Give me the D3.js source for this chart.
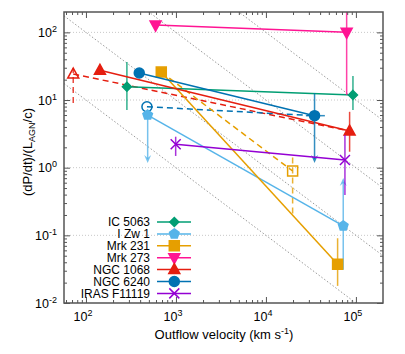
<!DOCTYPE html>
<html>
<head>
<meta charset="utf-8">
<script src="https://cdn.jsdelivr.net/npm/d3@7"></script>
<style>
  body { margin: 0; background: #fff; }
  text { font-family: "Liberation Sans", Arial, sans-serif; fill: #000; }
</style>
</head>
<body>
<div id="chart"></div>
<script>
// ---- data ----
const names = ['IC 5063', 'I Zw 1', 'Mrk 231', 'Mrk 273', 'NGC 1068', 'NGC 6240', 'IRAS F11119'];
const colors = ['#009e73', '#56b4e9', '#e69f00', '#ff1493', '#e51e10', '#0072b2', '#9400d3'];
const shapes = ['diamond', 'pentagon', 'square', 'triDown', 'triUp', 'circle', 'cross'];

// [velocity km/s, (dP/dt)/(L/c)]
const ic5063 = [[285, 15.7], [92700, 11.9]];
const izw1 = [[485, 6.0], [72300, 0.138]];
const mrk231 = [[687, 25.9], [62600, 0.0374]];
const mrk273 = [[594, 128], [78900, 100]];
const ngc1068 = [[143, 27.5], [85100, 3.48]];
const ngc6240 = [[391, 25.1], [34700, 5.87]];
const iras = [[993, 2.22], [75500, 1.30]];

// dashed alternative estimates, open marker at the given index
const mrk231Alt = [[687, 25.9], [19800, 0.894]];
const ngc1068Alt = [[72.2, 24.2], [85100, 3.48]];
const ngc6240Alt = [[476, 7.96], [34700, 5.87]];

// vertical error bars [velocity, low, high]
const ic5063Err = [[285, 7.1, 36.4], [92700, 7.1, 22.6]];
const mrk231Err = [[62600, 0.0179, 0.0906]];
const mrk231AltErr = [[19800, 0.21, 1.44]];
const mrk273Err = [[78900, 11.9, 1000]];
const ngc1068Err = [[85100, 1.72, 6.7]];
const ngc1068AltErr = [[72.2, 9.0, 29.7]];
const irasErr = [[993, 1.49, 2.87], [75500, 0.395, 3.04]];
// horizontal error bar [low v, high v, ratio]
const ngc6240XErr = [[27800, 45200, 5.87]];
// limit arrows [velocity, from, to]
const izw1Arrows = [[485, 6.0, 1.17], [72300, 0.031, 0.705]];
const ngc6240Arrows = [[34700, 12.6, 1.17]];

// lines of constant momentum x velocity
const diagK = [1e3, 1e4, 1e5, 1e6];
const xTicks = [1e2, 1e3, 1e4, 1e5];
const yTicks = [1e-2, 1e-1, 1e0, 1e1, 1e2];
const xExp = ['2', '3', '4', '5'];
const yExp = ['-2', '-1', '0', '1', '2'];

// ---- chart ----
const W = 405, H = 354;
const pL = 64, pR = 383, pT = 12, pB = 303;

const svg = d3.select('#chart').append('svg')
  .attr('width', W).attr('height', H);

const x = d3.scaleLog().domain([57, 2e5]).range([pL, pR]);
const y = d3.scaleLog().domain([0.01, 200]).range([pB, pT]);

svg.append('clipPath').attr('id', 'clip')
  .append('rect').attr('x', pL).attr('y', pT)
  .attr('width', pR - pL).attr('height', pB - pT);

const plot = svg.append('g').attr('clip-path', 'url(#clip)');

// grid
plot.selectAll('.grid').data(yTicks.slice(1)).enter().append('line')
  .attr('x1', pL).attr('x2', pR)
  .attr('y1', d => y(d)).attr('y2', d => y(d))
  .attr('stroke', '#c8c8c8').attr('stroke-width', 1)
  .attr('stroke-dasharray', '1,2');

// diagonal reference lines
const xs = x.domain();
plot.selectAll('.diag').data(diagK).enter().append('line')
  .attr('x1', x(xs[0])).attr('y1', d => y(d / xs[0]))
  .attr('x2', x(xs[1])).attr('y2', d => y(d / xs[1]))
  .attr('stroke', '#9a9a9a').attr('stroke-width', 1)
  .attr('stroke-dasharray', '1.5,2');

const line = d3.line().x(d => x(d[0])).y(d => y(d[1]));

function marker(g, shape, cx, cy, color, open) {
  const fill = open ? 'none' : color;
  const sw = 1.5;
  let p;
  if (shape === 'circle') {
    g.append('circle').attr('cx', cx).attr('cy', cy).attr('r', 5)
      .attr('fill', fill).attr('stroke', color).attr('stroke-width', sw);
    return;
  }
  if (shape === 'cross') {
    const s = 5;
    g.append('path')
      .attr('d', `M${cx - s},${cy - s}L${cx + s},${cy + s}M${cx - s},${cy + s}L${cx + s},${cy - s}`)
      .attr('stroke', color).attr('stroke-width', sw).attr('fill', 'none');
    return;
  }
  if (shape === 'diamond') {
    const s = 4.5;
    p = [[cx, cy - s], [cx + s, cy], [cx, cy + s], [cx - s, cy]];
  } else if (shape === 'square') {
    const s = 5;
    p = [[cx - s, cy - s], [cx + s, cy - s], [cx + s, cy + s], [cx - s, cy + s]];
  } else if (shape === 'triUp') {
    p = [[cx, cy - 6], [cx + 5.5, cy + 4], [cx - 5.5, cy + 4]];
  } else if (shape === 'triDown') {
    p = [[cx, cy + 6], [cx + 5.5, cy - 4], [cx - 5.5, cy - 4]];
  } else {
    p = d3.range(5).map(i => {
      const a = -Math.PI / 2 + i * 2 * Math.PI / 5;
      return [cx + 5 * Math.cos(a), cy + 5 * Math.sin(a)];
    });
  }
  g.append('path').attr('d', 'M' + p.join('L') + 'Z')
    .attr('fill', fill).attr('stroke', color).attr('stroke-width', sw)
    .attr('stroke-linejoin', 'miter');
}

function errY(g, data, color, dashed) {
  data.forEach(d => {
    g.append('line')
      .attr('x1', x(d[0])).attr('x2', x(d[0]))
      .attr('y1', y(d[1])).attr('y2', y(d[2]))
      .attr('stroke', color).attr('stroke-width', 1.5).attr('opacity', 0.8)
      .attr('stroke-dasharray', dashed ? '6,4' : null);
  });
}

function errX(g, data, color) {
  data.forEach(d => {
    g.append('line')
      .attr('x1', x(d[0])).attr('x2', x(d[1]))
      .attr('y1', y(d[2])).attr('y2', y(d[2]))
      .attr('stroke', color).attr('stroke-width', 1.5).attr('opacity', 0.8);
  });
}

function arrows(g, data, color) {
  data.forEach(d => {
    const ax = x(d[0]), y1 = y(d[1]), y2 = y(d[2]);
    const dir = y2 > y1 ? 1 : -1;
    g.append('line')
      .attr('x1', ax).attr('x2', ax).attr('y1', y1).attr('y2', y2 - dir * 4)
      .attr('stroke', color).attr('stroke-width', 1.5).attr('opacity', 0.8);
    g.append('path')
      .attr('d', `M${ax},${y2}L${ax - 3.5},${y2 - dir * 8}L${ax},${y2 - dir * 5}L${ax + 3.5},${y2 - dir * 8}Z`)
      .attr('fill', color).attr('opacity', 0.8);
  });
}

function series(g, data, color, shape, dashed, openIdx) {
  g.append('path').datum(data).attr('d', line)
    .attr('fill', 'none').attr('stroke', color).attr('stroke-width', 1.5)
    .attr('stroke-dasharray', dashed ? '6,4' : null);
  data.forEach((d, i) => {
    if (dashed && i !== openIdx) return;
    marker(g, shape, x(d[0]), y(d[1]), color, dashed);
  });
}

const dg = plot.append('g');
// dashed alternatives
series(dg, ngc1068Alt, colors[4], shapes[4], true, 0);
errY(dg, ngc1068AltErr, colors[4], true);
series(dg, ngc6240Alt, colors[5], shapes[5], true, 0);
series(dg, mrk231Alt, colors[2], shapes[2], true, 1);
errY(dg, mrk231AltErr, colors[2], true);

// solid series
errY(dg, ic5063Err, colors[0]);
series(dg, ic5063, colors[0], shapes[0]);
arrows(dg, izw1Arrows, colors[1]);
series(dg, izw1, colors[1], shapes[1]);
errY(dg, mrk231Err, colors[2]);
series(dg, mrk231, colors[2], shapes[2]);
errY(dg, mrk273Err, colors[3]);
series(dg, mrk273, colors[3], shapes[3]);
errY(dg, ngc1068Err, colors[4]);
series(dg, ngc1068, colors[4], shapes[4]);
arrows(dg, ngc6240Arrows, colors[5]);
errX(dg, ngc6240XErr, colors[5]);
series(dg, ngc6240, colors[5], shapes[5]);
errY(dg, irasErr, colors[6]);
series(dg, iras, colors[6], shapes[6]);

// ---- axes ----
function minorTicks(domain) {
  const out = [];
  for (let e = -3; e <= 6; e++) {
    for (let m = 2; m <= 9; m++) {
      const v = m * Math.pow(10, e);
      if (v > domain[0] && v < domain[1]) out.push(v);
    }
  }
  return out;
}
const axisColor = '#555';
function styleAxis(g) {
  g.select('.domain').remove();
  g.selectAll('.tick line').attr('stroke', axisColor).attr('stroke-width', 1);
}

const xMinor = minorTicks(x.domain());
const yMinor = minorTicks(y.domain());

svg.append('g').attr('transform', `translate(0,${pB})`)
  .call(d3.axisBottom(x).tickValues(xTicks).tickSize(-6).tickFormat(''))
  .call(styleAxis);
svg.append('g').attr('transform', `translate(0,${pB})`)
  .call(d3.axisBottom(x).tickValues(xMinor).tickSize(-3).tickFormat(''))
  .call(styleAxis);
svg.append('g').attr('transform', `translate(0,${pT})`)
  .call(d3.axisTop(x).tickValues(xTicks).tickSize(-6).tickFormat(''))
  .call(styleAxis);
svg.append('g').attr('transform', `translate(0,${pT})`)
  .call(d3.axisTop(x).tickValues(xMinor).tickSize(-3).tickFormat(''))
  .call(styleAxis);
svg.append('g').attr('transform', `translate(${pL},0)`)
  .call(d3.axisLeft(y).tickValues(yTicks).tickSize(-6).tickFormat(''))
  .call(styleAxis);
svg.append('g').attr('transform', `translate(${pL},0)`)
  .call(d3.axisLeft(y).tickValues(yMinor).tickSize(-3).tickFormat(''))
  .call(styleAxis);
svg.append('g').attr('transform', `translate(${pR},0)`)
  .call(d3.axisRight(y).tickValues(yTicks).tickSize(-6).tickFormat(''))
  .call(styleAxis);
svg.append('g').attr('transform', `translate(${pR},0)`)
  .call(d3.axisRight(y).tickValues(yMinor).tickSize(-3).tickFormat(''))
  .call(styleAxis);

// frame
svg.append('rect')
  .attr('x', pL).attr('y', pT)
  .attr('width', pR - pL).attr('height', pB - pT)
  .attr('fill', 'none').attr('stroke', axisColor).attr('stroke-width', 1.5);

// tick labels
xTicks.forEach((v, i) => {
  const t = svg.append('text')
    .attr('x', x(v) - 3).attr('y', 321)
    .attr('text-anchor', 'middle').attr('font-size', 12.5);
  t.append('tspan').text('10');
  t.append('tspan').attr('dy', -5).attr('font-size', 9).text(xExp[i]);
});
yTicks.forEach((v, i) => {
  const t = svg.append('text')
    .attr('x', 57).attr('y', y(v) + 4.5)
    .attr('text-anchor', 'end').attr('font-size', 12.5);
  t.append('tspan').text('10');
  t.append('tspan').attr('dy', -5).attr('font-size', 9).text(yExp[i]);
});

// axis titles
const xl = svg.append('text')
  .attr('x', 224).attr('y', 339)
  .attr('text-anchor', 'middle').attr('font-size', 13);
xl.append('tspan').text('Outflow velocity (km s');
xl.append('tspan').attr('dy', -5).attr('font-size', 9).text('-1');
xl.append('tspan').attr('dy', 5).text(')');

const yl = svg.append('text')
  .attr('transform', 'translate(32,152) rotate(-90)')
  .attr('text-anchor', 'middle').attr('font-size', 13);
yl.append('tspan').text('(dP/dt)/(L');
yl.append('tspan').attr('dy', 3).attr('font-size', 9).text('AGN');
yl.append('tspan').attr('dy', -3).text('/c)');

// legend
const leg = svg.append('g');
names.forEach((n, i) => {
  const ly = 222 + i * 11.9;
  leg.append('text')
    .attr('x', 150).attr('y', ly + 4.3)
    .attr('text-anchor', 'end').attr('font-size', 12).text(n);
  leg.append('line')
    .attr('x1', 157).attr('x2', 191).attr('y1', ly).attr('y2', ly)
    .attr('stroke', colors[i]).attr('stroke-width', 1.5);
  marker(leg, shapes[i], 174.3, ly, colors[i], false);
});
</script>
</body>
</html>
